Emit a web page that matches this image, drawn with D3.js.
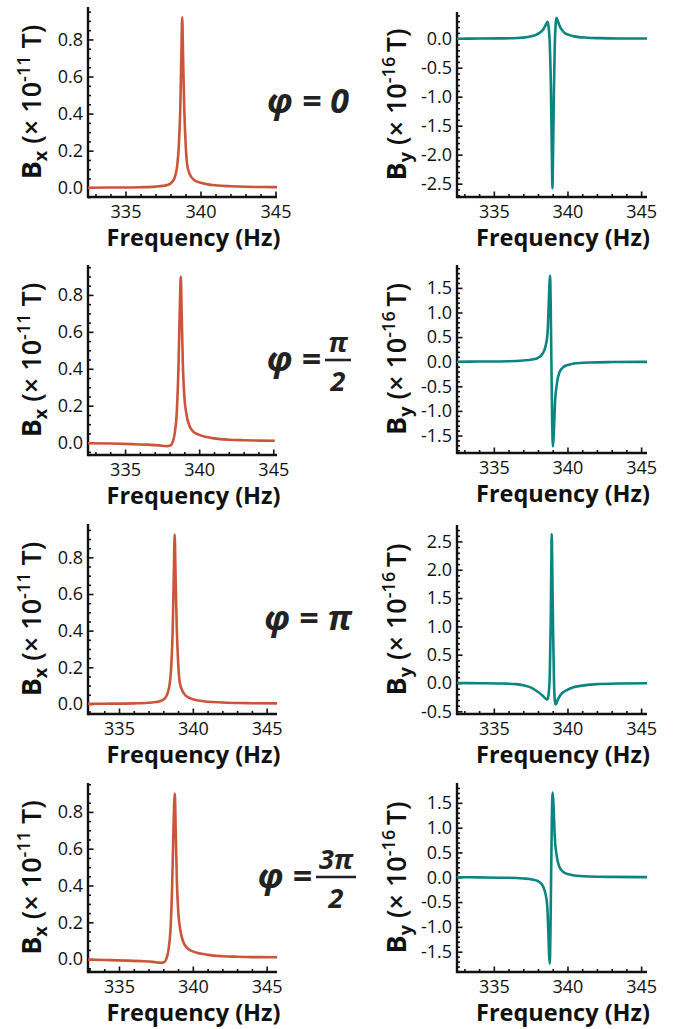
<!DOCTYPE html>
<html><head><meta charset="utf-8">
<script src="https://cdn.jsdelivr.net/npm/d3@7"></script>
<style>body{margin:0;background:#fff} svg{display:block}</style>
</head><body>
<svg id="c" width="675" height="1029"></svg>
<script>
// ---------- DATA (frequency Hz, value) ----------
const bxPhi0 = [[332.5,0.0],[334,0.001],[336,0.003],[337,0.006],[337.5,0.01],[337.8,0.015],[338.1,0.03],[338.3,0.06],[338.45,0.12],[338.55,0.22],[338.65,0.42],[338.72,0.7],[338.78,0.92],[338.84,0.7],[338.92,0.42],[339.02,0.22],[339.12,0.12],[339.3,0.07],[339.6,0.04],[340,0.027],[340.5,0.018],[341,0.013],[342,0.008],[343,0.005],[344,0.004],[345.1,0.003]];
const byPhi0 = [[332.5,0.0],[334,0.002],[335.5,0.005],[336.6,0.012],[337.3,0.03],[337.8,0.06],[338.1,0.1],[338.35,0.16],[338.55,0.25],[338.64,0.29],[338.72,0.2],[338.8,-0.1],[338.88,-0.9],[338.94,-2.0],[338.98,-2.58],[339.02,-2.0],[339.08,-0.9],[339.14,-0.1],[339.2,0.25],[339.25,0.36],[339.35,0.3],[339.5,0.2],[339.76,0.11],[340.1,0.065],[340.44,0.04],[341.34,0.017],[342.24,0.009],[343.5,0.004],[345.4,0.002]];
const bxPhiHalf = [[332.5,-0.003],[334,-0.005],[335.5,-0.008],[336.5,-0.011],[337.3,-0.015],[337.8,-0.019],[338.05,-0.016],[338.2,0.0],[338.35,0.05],[338.5,0.18],[338.6,0.4],[338.7,0.75],[338.76,0.9],[338.82,0.7],[338.9,0.42],[339.0,0.25],[339.15,0.15],[339.35,0.09],[339.6,0.06],[340,0.042],[340.5,0.03],[341,0.023],[342,0.016],[343,0.013],[344,0.011],[345.1,0.01]];
const byPhiHalf = [[332.5,0.0],[334,0.003],[336,0.01],[337,0.025],[337.6,0.045],[338,0.08],[338.3,0.16],[338.5,0.3],[338.64,0.55],[338.72,1.1],[338.78,1.6],[338.82,1.75],[338.86,1.2],[338.91,0.0],[338.96,-1.2],[339.02,-1.72],[339.08,-1.4],[339.16,-0.8],[339.28,-0.45],[339.45,-0.22],[339.76,-0.1],[340.1,-0.06],[340.44,-0.035],[341.5,-0.015],[343,-0.007],[345.4,-0.003]];
const bxPhiPi = [[332.9,0.0],[334,0.001],[336,0.003],[337,0.006],[337.5,0.01],[337.8,0.016],[338.1,0.03],[338.3,0.06],[338.45,0.12],[338.55,0.22],[338.64,0.42],[338.71,0.7],[338.77,0.925],[338.83,0.7],[338.91,0.42],[339.01,0.22],[339.11,0.12],[339.3,0.07],[339.6,0.04],[340,0.026],[340.5,0.017],[341,0.012],[342,0.008],[343,0.005],[344,0.004],[345.7,0.003]];
const byPhiPi = [[332.5,0.0],[334,-0.003],[335.5,-0.008],[336.5,-0.02],[337.06,-0.045],[337.6,-0.09],[337.96,-0.15],[338.3,-0.22],[338.55,-0.28],[338.64,-0.29],[338.72,-0.2],[338.8,0.15],[338.86,1.0],[338.9,2.0],[338.93,2.63],[338.97,2.0],[339.02,1.0],[339.08,0.1],[339.14,-0.3],[339.2,-0.38],[339.3,-0.32],[339.5,-0.22],[339.99,-0.12],[340.4,-0.075],[340.89,-0.05],[342,-0.02],[343.5,-0.008],[345.4,-0.004]];
const bxPhi3Half = [[332.9,-0.003],[334,-0.005],[335.5,-0.008],[336.5,-0.011],[337.3,-0.015],[337.8,-0.02],[338.05,-0.017],[338.2,0.0],[338.35,0.05],[338.5,0.18],[338.6,0.4],[338.7,0.75],[338.78,0.9],[338.84,0.7],[338.92,0.42],[339.02,0.25],[339.17,0.15],[339.37,0.09],[339.62,0.06],[340,0.042],[340.5,0.03],[341,0.023],[342,0.016],[343,0.013],[344,0.011],[345.7,0.01]];
const byPhi3Half = [[332.5,0.0],[334,-0.003],[336,-0.01],[337,-0.025],[337.6,-0.045],[338,-0.08],[338.3,-0.16],[338.48,-0.3],[338.62,-0.55],[338.7,-1.1],[338.76,-1.6],[338.8,-1.74],[338.84,-1.2],[338.89,0.0],[338.94,1.2],[339.0,1.71],[339.06,1.4],[339.14,0.8],[339.26,0.45],[339.43,0.22],[339.74,0.1],[340.1,0.06],[340.44,0.035],[341.5,0.015],[343,0.007],[345.4,0.003]];

const xTickLabels = [335, 340, 345];
const bxTickLabels = [0.0, 0.2, 0.4, 0.6, 0.8];
const byTicksPhi0 = [-2.5, -2.0, -1.5, -1.0, -0.5, 0.0];
const byTicksPhiHalf = [-1.5, -1.0, -0.5, 0.0, 0.5, 1.0, 1.5];
const byTicksPhiPi = [-0.5, 0.0, 0.5, 1.0, 1.5, 2.0, 2.5];
const byTicksPhi3Half = [-1.5, -1.0, -0.5, 0.0, 0.5, 1.0, 1.5];

const bxDomains = [[-0.05, 0.975], [-0.067, 0.962], [-0.055, 0.982], [-0.07, 0.957]];
const byDomains = [[-2.73, 0.46], [-1.855, 1.965], [-0.547, 2.79], [-1.91, 1.90]];
const bxFreqDomains = [[332.5, 345.1], [332.5, 345.25], [332.9, 345.7], [332.9, 345.7]];
const byFreqDomains = [[332.5, 345.4], [332.5, 345.4], [332.5, 345.4], [332.5, 345.4]];

const phaseLabels = [{whole: "0"}, {num: "π", den: "2"}, {whole: "π"}, {num: "3π", den: "2"}];

// ---------- STYLE / LAYOUT ----------
const FONT = "'Open Sans', 'Noto Sans', sans-serif";
const RED = "#cb5539", TEAL = "#0c8580";
const leftX = [88, 277], rightX = [457, 647];
const leftY = [[7,197],[265,455],[524,714],[783,972]];
const rightY = [[12,197],[265,453],[525,714],[783,972]];

const svg = d3.select("#c");
const fmt = d => d.toFixed(1);

function panel(opts) {
  const {xr, yr, xdom, ydom, data, color, majorY, minorStep, sub, exp, tGap, titleOffset} = opts;
  const x = d3.scaleLinear().domain(xdom).range(xr);
  const y = d3.scaleLinear().domain(ydom).range([yr[1], yr[0]]);
  const g = svg.append("g");

  const minorX = d3.range(Math.ceil(xdom[0]), Math.floor(xdom[1]) + 1).filter(v => !xTickLabels.includes(v));
  const minorY = d3.range(Math.ceil(ydom[0] / minorStep), Math.floor(ydom[1] / minorStep) + 1)
    .map(k => +(k * minorStep).toFixed(3)).filter(v => !majorY.some(m => Math.abs(m - v) < 1e-6));

  const gx = g.append("g").attr("transform", `translate(0,${yr[1]})`);
  gx.call(d3.axisBottom(x).tickValues(minorX).tickSize(-3).tickFormat(""));
  gx.append("g").call(d3.axisBottom(x).tickValues(xTickLabels).tickSize(-5.5).tickPadding(8).tickFormat(d3.format("d")));
  const gy = g.append("g").attr("transform", `translate(${xr[0]},0)`);
  gy.call(d3.axisLeft(y).tickValues(minorY).tickSize(-3).tickFormat(""));
  gy.append("g").call(d3.axisLeft(y).tickValues(majorY).tickSize(-5.5).tickPadding(5).tickFormat(fmt));
  g.selectAll(".domain").remove();
  g.selectAll(".tick line").attr("stroke", "#111").attr("stroke-width", 1.6);
  g.selectAll(".tick text").attr("font-family", FONT).attr("font-size", 18).attr("fill", "#111");

  g.append("line").attr("x1", xr[0]).attr("x2", xr[1]).attr("y1", yr[1]).attr("y2", yr[1])
    .attr("stroke", "#111").attr("stroke-width", 2.4);
  g.append("line").attr("x1", xr[0]).attr("x2", xr[0]).attr("y1", yr[0]).attr("y2", yr[1] + 1.2)
    .attr("stroke", "#111").attr("stroke-width", 2.4);

  g.append("path").datum(data)
    .attr("d", d3.line().x(d => x(d[0])).y(d => y(d[1])).curve(d3.curveMonotoneX))
    .attr("fill", "none").attr("stroke", color).attr("stroke-width", 2.6)
    .attr("stroke-linejoin", "round");

  g.append("text").attr("x", (xr[0] + xr[1]) / 2 + 11).attr("y", yr[1] + 49)
    .attr("text-anchor", "middle").attr("font-family", FONT).attr("font-weight", 700)
    .attr("font-size", 23.5).attr("fill", "#111").text("Frequency (Hz)");

  const t = g.append("text")
    .attr("transform", `translate(${xr[0] - titleOffset},${(yr[0] + yr[1]) / 2}) rotate(-90)`)
    .attr("text-anchor", "middle").attr("font-family", FONT).attr("font-size", 27).attr("fill", "#111");
  t.append("tspan").attr("font-weight", 700).text("B");
  t.append("tspan").attr("font-weight", 700).attr("font-size", 18).attr("dy", 6).text(sub);
  t.append("tspan").attr("font-weight", 600).attr("dy", -6).text(" (× 10");
  t.append("tspan").attr("font-weight", 600).attr("font-size", 18).attr("dy", -11).text(exp);
  t.append("tspan").attr("font-weight", 600).attr("dy", 11).text(tGap + "T)");
}

for (let i = 0; i < 4; i++) {
  const bxData = [bxPhi0, bxPhiHalf, bxPhiPi, bxPhi3Half][i];
  const byData = [byPhi0, byPhiHalf, byPhiPi, byPhi3Half][i];
  const byTicks = [byTicksPhi0, byTicksPhiHalf, byTicksPhiPi, byTicksPhi3Half][i];
  panel({xr: leftX, yr: leftY[i], xdom: bxFreqDomains[i], ydom: bxDomains[i], data: bxData, color: RED,
    majorY: bxTickLabels, minorStep: 0.05, sub: "x", exp: "-11", tGap: " ", titleOffset: 47});
  panel({xr: rightX, yr: rightY[i], xdom: byFreqDomains[i], ydom: byDomains[i], data: byData, color: TEAL,
    majorY: byTicks, minorStep: 0.1, sub: "y", exp: "-16", tGap: "\u2009", titleOffset: 51});
}

const rowCenters = [102, 360, 619, 877];
phaseLabels.forEach((p, i) => {
  const cy = rowCenters[i];
  const g = svg.append("g").attr("font-family", FONT).attr("font-weight", 700)
    .attr("font-style", "italic").attr("fill", "#222");
  if (p.whole) {
    g.append("text").attr("x", 308).attr("y", cy + 11).attr("text-anchor", "middle")
      .attr("font-size", 34).text("φ = " + p.whole);
  } else {
    const barX0 = p.num.length > 1 ? 316 : 325;
    const barX1 = p.num.length > 1 ? 356 : 351;
    g.append("text").attr("x", barX0 - 4).attr("y", cy + 11).attr("text-anchor", "end")
      .attr("font-size", 34).text("φ =");
    g.append("line").attr("x1", barX0).attr("x2", barX1).attr("y1", cy).attr("y2", cy)
      .attr("stroke", "#222").attr("stroke-width", 2.6);
    g.append("text").attr("x", (barX0 + barX1) / 2).attr("y", cy - 8).attr("text-anchor", "middle")
      .attr("font-size", 27).text(p.num);
    g.append("text").attr("x", (barX0 + barX1) / 2).attr("y", cy + 31).attr("text-anchor", "middle")
      .attr("font-size", 27).text(p.den);
  }
});
</script>
</body></html>
